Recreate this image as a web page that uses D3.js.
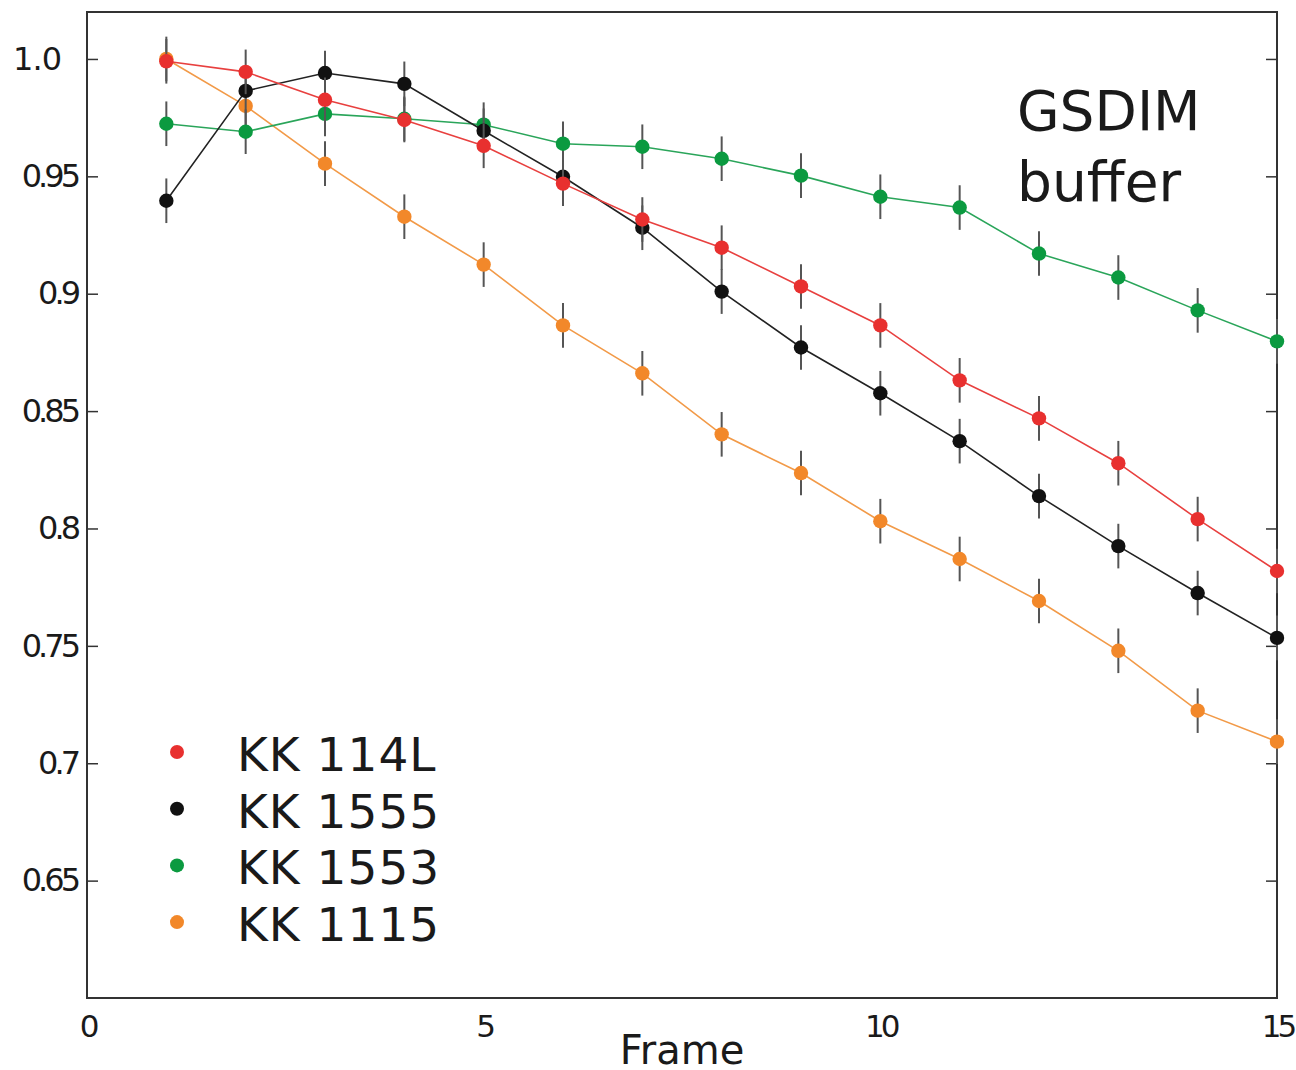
<!DOCTYPE html>
<html lang="en">
<head>
    <meta charset="UTF-8">
    <title>GSDIM buffer</title>
    <style>
        body { margin: 0; background: #fff; }
        text { font-family: "DejaVu Sans", Verdana, sans-serif; fill: #1a1a1a; }
    </style>
</head>
<body>
    <svg id="container" width="1296" height="1070">
        <g id="body" transform="translate(87,12)"></g>
    </svg>

<script src="https://cdn.jsdelivr.net/npm/d3@7/dist/d3.min.js"></script>
<script>

    // frame numbers
    let frames = [1, 2, 3, 4, 5, 6, 7, 8, 9, 10, 11, 12, 13, 14, 15]

    let kk114L = [0.999, 0.9945, 0.9826, 0.974, 0.963, 0.9469, 0.9316, 0.9196, 0.9031, 0.8865, 0.8631, 0.8469, 0.8278, 0.804, 0.7819]
    let kk1555 = [0.9396, 0.9864, 0.994, 0.9894, 0.9694, 0.9498, 0.9281, 0.9009, 0.8771, 0.8576, 0.8372, 0.8138, 0.7925, 0.7725, 0.7534]
    let kk1553 = [0.9724, 0.969, 0.9766, 0.9745, 0.972, 0.9639, 0.9626, 0.9575, 0.9503, 0.9413, 0.9367, 0.9171, 0.9069, 0.8929, 0.8797]
    let kk1115 = [1.0, 0.98, 0.9554, 0.9328, 0.9124, 0.8865, 0.8661, 0.8401, 0.8236, 0.8031, 0.787, 0.7691, 0.7479, 0.7224, 0.7092]

    // error bar half-lengths (same for every series)
    let errors = [0.0095, 0.0095, 0.0095, 0.0095, 0.0095, 0.0095, 0.0095, 0.0095, 0.0095, 0.0095, 0.0095, 0.0095, 0.0095, 0.0095, 0.0095]

    let seriesNames = ["KK 114L", "KK 1555", "KK 1553", "KK 1115"]
    let seriesValues = [kk114L, kk1555, kk1553, kk1115]
    let seriesColors = ["#e8302f", "#111111", "#0b9a40", "#f2882a"]
    let lineColors = ["#e8403f", "#222222", "#2aa55a", "#f29a48"]

    let yTicks = [0.65, 0.7, 0.75, 0.8, 0.85, 0.9, 0.95, 1.0]
    let xTicks = [0, 5, 10, 15]

    let width = 1190
    let height = 986

    let body = d3.select("#body")

    let xScale = d3.scaleLinear()
        .domain([0, 15])
        .range([0, width])

    let yScale = d3.scaleLinear()
        .domain([0.6, 1.02])
        .range([height, 0])

    // left axis, ticks pointing inward
    let yAxis = d3.axisLeft(yScale)
        .tickValues(yTicks)
        .tickSizeInner(-11)
        .tickSizeOuter(0)
        .tickPadding(10)
        .tickFormat(d => d === 1 ? "1.0" : d3.format("")(d))
    let yG = body.append("g").call(yAxis)
    yG.select(".domain").remove()
    yG.selectAll("text")
        .attr("font-size", 32)
        .attr("letter-spacing", -4)
        .attr("font-family", "DejaVu Sans")
        .attr("fill", "#1a1a1a")
    yG.selectAll(".tick").filter(d => d === 1).select("text")
        .attr("letter-spacing", -1)
        .attr("x", -26)
    yG.selectAll("line").attr("stroke", "#333").attr("stroke-width", 1.5)

    // right axis, inward ticks only
    let yAxisRight = d3.axisRight(yScale)
        .tickValues(yTicks)
        .tickSizeInner(-11)
        .tickSizeOuter(0)
        .tickFormat("")
    let yR = body.append("g").attr("transform", "translate(" + width + ",0)").call(yAxisRight)
    yR.select(".domain").remove()
    yR.selectAll("line").attr("stroke", "#333").attr("stroke-width", 1.5)

    let xAxis = d3.axisBottom(xScale)
        .tickValues(xTicks)
        .tickSize(0)
        .tickPadding(17)
    let xG = body.append("g").attr("transform", "translate(0," + height + ")").call(xAxis)
    xG.select(".domain").remove()
    xG.selectAll("text")
        .attr("font-size", 31)
        .attr("letter-spacing", -4)
        .attr("font-family", "DejaVu Sans")
        .attr("fill", "#1a1a1a")

    // frame box
    body.append("rect")
        .attr("x", 0)
        .attr("y", 0)
        .attr("width", width)
        .attr("height", height)
        .attr("fill", "none")
        .attr("stroke", "#333")
        .attr("stroke-width", 2)

    let line = d3.line()
        .x((d, i) => xScale(frames[i]))
        .y(d => yScale(d))

    // draw order: orange, green, black, red
    let order = [3, 2, 1, 0]

    order.forEach(s => {
        let values = seriesValues[s]
        let g = body.append("g")

        g.selectAll("line.err")
            .data(values)
            .enter()
            .append("line")
            .attr("class", "err")
            .attr("x1", (d, i) => xScale(frames[i]))
            .attr("x2", (d, i) => xScale(frames[i]))
            .attr("y1", (d, i) => yScale(d + errors[i]))
            .attr("y2", (d, i) => yScale(d - errors[i]))
            .attr("stroke", "#555")
            .attr("stroke-width", 2)

        g.append("path")
            .datum(values)
            .attr("d", line)
            .attr("fill", "none")
            .attr("stroke", lineColors[s])
            .attr("stroke-width", 1.6)

        g.selectAll("circle")
            .data(values)
            .enter()
            .append("circle")
            .attr("cx", (d, i) => xScale(frames[i]))
            .attr("cy", d => yScale(d))
            .attr("r", 7.2)
            .attr("fill", seriesColors[s])
    })

    // legend
    let legend = body.append("g").attr("transform", "translate(90,740)")
    seriesNames.forEach((name, i) => {
        legend.append("circle")
            .attr("cx", 0)
            .attr("cy", i * 56.7)
            .attr("r", 7)
            .attr("fill", seriesColors[i])
        legend.append("text")
            .attr("x", 60)
            .attr("y", i * 56.7 + 19)
            .attr("font-size", 47)
            .attr("letter-spacing", 1)
            .text(name)
    })

    // annotation
    body.append("text")
        .attr("x", 930)
        .attr("y", 118)
        .attr("font-size", 55)
        .text("GSDIM")
    body.append("text")
        .attr("x", 930)
        .attr("y", 189)
        .attr("font-size", 55)
        .text("buffer")

    // x axis title
    body.append("text")
        .attr("x", xScale(7.5))
        .attr("y", height + 66)
        .attr("text-anchor", "middle")
        .attr("font-size", 40)
        .text("Frame")

</script>
</body>
</html>
